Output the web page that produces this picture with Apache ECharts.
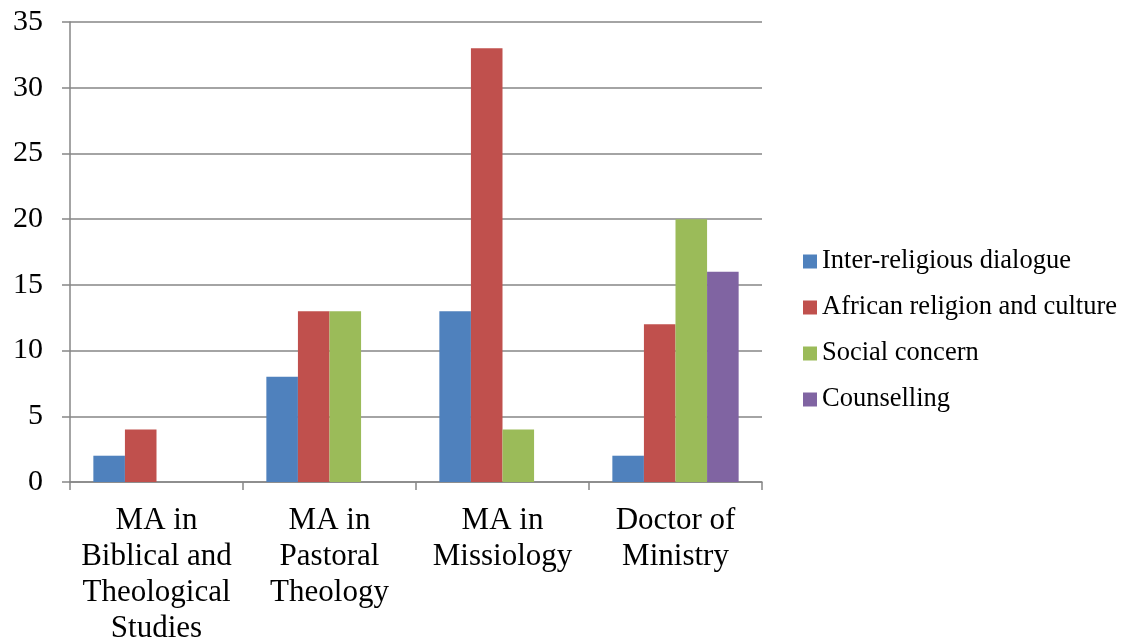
<!DOCTYPE html>
<html>
<head>
<meta charset="utf-8">
<script src="https://cdn.jsdelivr.net/npm/echarts@6/dist/echarts.min.js"></script>
<style>
  html, body { margin: 0; padding: 0; background: #fff; }
  #chart { width: 1125px; height: 642px; }
</style>
</head>
<body>
<div id="chart"></div>
<script>
// Programme categories (x axis)
const categories = [
  'MA in\nBiblical and\nTheological\nStudies',
  'MA in\nPastoral\nTheology',
  'MA in\nMissiology',
  'Doctor of\nMinistry'
];

// Research areas per programme
const interReligious = [2, 8, 13, 2];
const africanReligion = [4, 13, 33, 12];
const socialConcern = [0, 13, 4, 20];
const counselling = [0, 0, 0, 16];

const seriesNames = ['Inter-religious dialogue', 'African religion and culture', 'Social concern', 'Counselling'];
const seriesData = [interReligious, africanReligion, socialConcern, counselling];
const colors = ['#4F81BD', '#C0504D', '#9BBB59', '#8064A2'];

const font = '"Liberation Serif", "Times New Roman", serif';
const chart = echarts.init(document.getElementById('chart'));

chart.setOption({
  animation: false,
  grid: { left: 70, right: 363, top: 22, bottom: 160, containLabel: false, outerBoundsMode: 'none' },
  legend: {
    orient: 'vertical',
    left: 798,
    top: 243,
    itemWidth: 14,
    itemHeight: 14,
    itemGap: 19,
    icon: 'rect',
    textStyle: { fontFamily: font, fontSize: 26.5, lineHeight: 26, color: '#000' },
    data: seriesNames
  },
  xAxis: {
    type: 'category',
    data: categories,
    axisLine: { lineStyle: { color: '#868686', width: 1.5 } },
    axisTick: { show: true, length: 8, lineStyle: { color: '#868686', width: 1.5 } },
    axisLabel: { fontFamily: font, fontSize: 31, lineHeight: 36, color: '#000', margin: 21, interval: 0 }
  },
  yAxis: {
    type: 'value',
    min: 0,
    max: 35,
    interval: 5,
    axisLine: { show: true, lineStyle: { color: '#868686', width: 1.5 } },
    axisTick: { show: true, length: 8, lineStyle: { color: '#868686', width: 1.5 } },
    splitLine: { lineStyle: { color: '#868686', width: 1.5 } },
    axisLabel: { fontFamily: font, fontSize: 30, color: '#000', margin: 27 }
  },
  series: seriesNames.map((name, i) => ({
    name,
    type: 'bar',
    data: seriesData[i],
    barGap: '0%',
    barCategoryGap: '27%',
    itemStyle: { color: colors[i] }
  }))
});
</script>
</body>
</html>
